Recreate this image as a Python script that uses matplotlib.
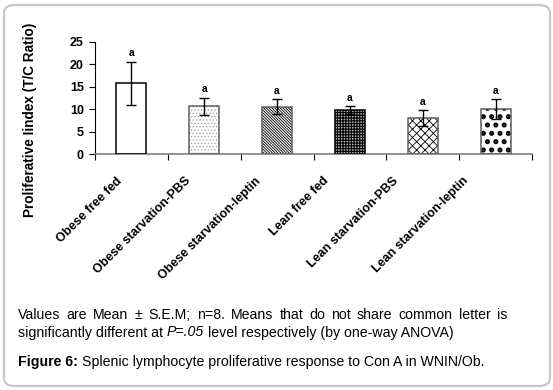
import matplotlib
matplotlib.use("Agg")
import matplotlib.pyplot as plt
from matplotlib.patches import FancyBboxPatch
from matplotlib.transforms import ScaledTranslation
import numpy as np

categories = ["Obese free fed", "Obese starvation-PBS", "Obese starvation-leptin",
              "Lean free fed", "Lean starvation-PBS", "Lean starvation-leptin"]
means = [15.8, 10.7, 10.6, 9.8, 8.0, 10.0]
sems = [4.8, 1.9, 1.6, 0.9, 1.8, 2.2]
letters = ["a", "a", "a", "a", "a", "a"]
yticks = [0, 5, 10, 15, 20, 25]

faces = ["white", "white", "white", "#a8a8a8", "white", "white"]
hatches = [None, ".....", "\\" * 12, "+" * 6, "xxxx", ".."]
hatch_lw = [0, 0.6, 0.6, 0.8, 0.6, 2.4]
hatch_cols = ["black", "#a8a8a8", "black", "black", "black", "black"]
edges = ["black", "#606060", "#606060", "black", "#606060", "#606060"]
label_shift_px = [-15, -20, -22, -27, -30, -33]

W, H = 553, 390
plt.rcParams["font.family"] = ["Liberation Sans", "DejaVu Sans"]
fig = plt.figure(figsize=(W / 100, H / 100), dpi=100)
fig.patch.set_facecolor("white")

# frame
frame = FancyBboxPatch((4 / W, 1 - 386 / H), (550 - 4) / W, (386 - 5) / H,
                       boxstyle="round,pad=0,rounding_size=0.02",
                       transform=fig.transFigure, facecolor="none",
                       edgecolor="#c8c8c8", linewidth=1.6)
fig.patches.append(frame)

ax = fig.add_axes([95 / W, 1 - 154.3 / H, (532 - 95) / W, (154.3 - 41.7) / H])
x = np.arange(len(categories))
for i in range(len(categories)):
    if hatches[i]:
        plt.rcParams["hatch.linewidth"] = hatch_lw[i]
        ax.bar(x[i], means[i], width=0.41, color=faces[i], hatch=hatches[i],
               edgecolor=hatch_cols[i], linewidth=0, zorder=2)
    else:
        ax.bar(x[i], means[i], width=0.41, color=faces[i], linewidth=0, zorder=2)
    ax.bar(x[i], means[i], width=0.41, color="none", edgecolor=edges[i],
           linewidth=1.1, zorder=3)
ax.errorbar(x, means, yerr=sems, fmt="none", ecolor="black", elinewidth=1.0,
            capsize=3.5, capthick=1.0, zorder=4)
for xi, m, s, l in zip(x, means, sems, letters):
    ax.text(xi, m + s + 0.8, l, ha="center", va="bottom", fontsize=7.5,
            fontweight="bold")

ax.set_xlim(-0.5, 5.5)
ax.set_ylim(0, 25)
ax.set_yticks(yticks)
ax.set_yticklabels([str(v) for v in yticks], fontsize=9, fontweight="bold")
ax.set_xticks(np.arange(-0.5, 6, 1))
ax.set_xticklabels([])
ax.set_xticks(x, minor=True)
ax.set_xticklabels(categories, minor=True, rotation=45, ha="right",
                   rotation_mode="anchor", fontsize=9, fontweight="bold")
ax.tick_params(axis="x", which="minor", length=0, pad=15)
ax.tick_params(axis="x", which="major", length=4, direction="out", color="black")
ax.tick_params(axis="y", length=4, direction="out", pad=4)
for lbl, sh in zip(ax.get_xticklabels(minor=True), label_shift_px):
    off = ScaledTranslation(sh / 100, 0, fig.dpi_scale_trans)
    lbl.set_transform(lbl.get_transform() + off)
for sp in ["top", "right"]:
    ax.spines[sp].set_visible(False)
ax.spines["left"].set_color("black")
ax.spines["bottom"].set_color("#808080")
ax.spines["bottom"].set_linewidth(1.2)

fig.text(30 / W, 1 - 120 / H, "Proliferative Iindex (T/C Ratio)", rotation=90,
         ha="center", va="center", fontsize=9.8, fontweight="bold")

# caption
fig.canvas.draw()
r = fig.canvas.get_renderer()
fs = 10.2

def width(s, **kw):
    t = fig.text(0, 0, s, fontsize=fs, **kw)
    w = t.get_window_extent(r).width
    t.remove()
    return w

sp = width("x x") - width("xx")

line1 = "Values are Mean \u00b1 S.E.M; n=8. Means that do not share common letter is"
words = line1.split()
ws = [width(w_) for w_ in words]
left, right = 18, 507
gap = (right - left - sum(ws)) / (len(words) - 1)
xx = left
for w_, wd in zip(words, ws):
    fig.text(xx / W, 1 - 319 / H, w_, fontsize=fs, va="baseline", ha="left")
    xx += wd + gap

pieces = [("significantly different at", {}), ("P=.05", {"style": "italic"}),
          ("level respectively (by one-way ANOVA)", {})]
xx = left
for s, kw in pieces:
    fig.text(xx / W, 1 - 336.5 / H, s, fontsize=fs, va="baseline", ha="left", **kw)
    xx += width(s, **kw) + sp

pieces = [("Figure 6:", {"fontweight": "bold"}),
          ("Splenic lymphocyte proliferative response to Con A in WNIN/Ob.", {})]
xx = left
for s, kw in pieces:
    fig.text(xx / W, 1 - 366 / H, s, fontsize=fs, va="baseline", ha="left", **kw)
    xx += width(s, **kw) + sp

fig.savefig("out.png", dpi=100, facecolor="white")
